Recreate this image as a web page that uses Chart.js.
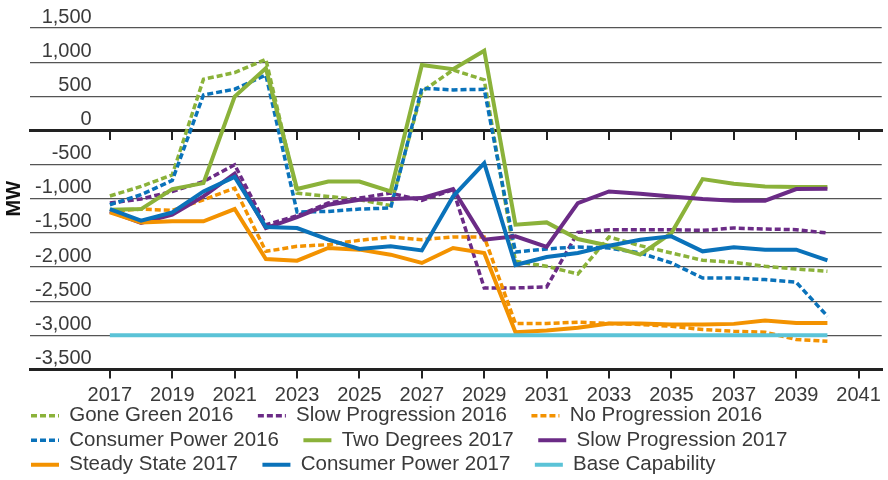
<!DOCTYPE html>
<html lang="en">
<head>
  <meta charset="UTF-8">
  <title>Capacity margin - MW</title>
  <script src="https://cdn.jsdelivr.net/npm/chart.js@4"></script>
  <style>
    html, body { margin: 0; padding: 0; background: #fff; }
    #wrap { width: 888px; height: 480px; }
  </style>
</head>
<body>
<div id="wrap"><canvas id="chart"></canvas></div>

<script>
  // categories
  const years = [2017, 2018, 2019, 2020, 2021, 2022, 2023, 2024, 2025, 2026, 2027, 2028,
                 2029, 2030, 2031, 2032, 2033, 2034, 2035, 2036, 2037, 2038, 2039, 2040];
  const xTicks = [2017, 2019, 2021, 2023, 2025, 2027, 2029, 2031, 2033, 2035, 2037, 2039, 2041];

  // series values (MW)
  const goneGreen2016 = [-960, -820, -650, 750, 847, 1042, -917, -966, -1015, -1100, 569, 886,
                         740, -1916, -1989, -2101, -1560, -1687, -1794, -1901, -1931, -1989, -2028, -2062];
  const slowProg2016 = [-1063, -1004, -893, -747, -503, -1380, -1250, -1063, -990, -917, -1024, -868,
                        -2306, -2306, -2291, -1492, -1453, -1453, -1453, -1463, -1429, -1443, -1453, -1502];
  const noProg2016 = [-1185, -1151, -1171, -1015, -844, -1770, -1697, -1672, -1609, -1560, -1599, -1560,
                      -1560, -2827, -2827, -2808, -2827, -2842, -2867, -2915, -2940, -2954, -3061, -3086];
  const consumer2016 = [-1088, -941, -732, 520, 604, 813, -1195, -1185, -1151, -1136, 618, 594,
                        603, -1780, -1735, -1706, -1721, -1794, -1940, -2160, -2160, -2184, -2223, -2720];
  const twoDegrees2017 = [-1161, -1151, -858, -771, 496, 911, -858, -747, -747, -893, 959, 896,
                          1168, -1380, -1346, -1589, -1687, -1819, -1502, -712, -781, -820, -829, -829];
  const slowProg2017 = [-1185, -1355, -1234, -966, -634, -1429, -1270, -1088, -1015, -1004, -990, -858,
                        -1599, -1551, -1706, -1063, -893, -927, -966, -1004, -1029, -1029, -858, -854];
  const steadyState2017 = [-1200, -1346, -1331, -1331, -1151, -1882, -1906, -1721, -1745, -1819, -1940, -1721,
                           -1794, -2954, -2930, -2890, -2827, -2827, -2842, -2842, -2832, -2784, -2818, -2818];
  const consumer2017 = [-1151, -1320, -1200, -893, -680, -1414, -1429, -1599, -1735, -1697, -1756, -966,
                        -478, -1970, -1852, -1794, -1687, -1599, -1551, -1770, -1712, -1745, -1745, -1901];
  const baseCapability = [-3000, -3000, -3000, -3000, -3000, -3000, -3000, -3000, -3000, -3000, -3000, -3000,
                          -3000, -3000, -3000, -3000, -3000, -3000, -3000, -3000, -3000, -3000, -3000, -3000];

  const FONT = '"Liberation Sans", Arial, sans-serif';
  const TEXT = '#3a3a3a';
  const GREEN = '#8bb23a', PURPLE = '#6b2b86', ORANGE = '#f39200', BLUE = '#0a72ba', CYAN = '#5bc3d7';
  const DASH = [6, 3];

  const series = [
    { label: 'Gone Green 2016', data: goneGreen2016, color: GREEN, dashed: true },
    { label: 'Slow Progression 2016', data: slowProg2016, color: PURPLE, dashed: true },
    { label: 'No Progression 2016', data: noProg2016, color: ORANGE, dashed: true },
    { label: 'Consumer Power 2016', data: consumer2016, color: BLUE, dashed: true },
    { label: 'Two Degrees 2017', data: twoDegrees2017, color: GREEN, dashed: false },
    { label: 'Slow Progression 2017', data: slowProg2017, color: PURPLE, dashed: false },
    { label: 'Steady State 2017', data: steadyState2017, color: ORANGE, dashed: false },
    { label: 'Consumer Power 2017', data: consumer2017, color: BLUE, dashed: false },
    { label: 'Base Capability', data: baseCapability, color: CYAN, dashed: false }
  ];

  const datasets = series.map((s, i) => ({
    label: s.label,
    data: years.map((yr, k) => ({ x: yr, y: s.data[k] })),
    borderColor: s.color,
    backgroundColor: s.color,
    borderWidth: s.dashed ? 3.5 : 4,
    borderDash: s.dashed ? DASH : [],
    pointRadius: 0,
    tension: 0,
    order: series.length - 1 - i   // later series drawn on top
  }));

  const xMin = 2014.44, xMax = 2041.74;
  const setXTicks = axis => { axis.ticks = xTicks.map(v => ({ value: v })); };

  // legend sits in from the left edge and tucks up under the year labels, like the original
  const legendShift = {
    id: 'legendShift',
    afterLayout(chart) {
      chart.legend.left += 27;
      chart.legend.top -= 11;
    }
  };

  new Chart(document.getElementById('chart'), {
    type: 'line',
    data: { datasets },
    plugins: [legendShift],
    options: {
      responsive: true,
      maintainAspectRatio: false,
      animation: false,
      devicePixelRatio: 1,
      layout: { padding: { top: 28, right: 5, bottom: -16, left: 0 } },
      scales: {
        x: {
          type: 'linear',
          min: xMin, max: xMax,
          afterBuildTicks: setXTicks,
          ticks: {
            callback: v => String(v),
            font: { family: FONT, size: 20, lineHeight: 1 },
            color: TEXT, padding: 7, maxRotation: 0, autoSkip: false
          },
          grid: { drawOnChartArea: false, tickLength: 9, color: '#222', lineWidth: 2 },
          border: { display: true, color: '#222', width: 3 }
        },
        xZero: {
          type: 'linear',
          position: { y: 0 },
          min: xMin, max: xMax,
          afterBuildTicks: setXTicks,
          ticks: { display: false },
          grid: { drawOnChartArea: false, tickLength: 8, color: '#222', lineWidth: 2 },
          border: { display: true, color: '#222', width: 3 }
        },
        y: {
          min: -3500, max: 1500,
          ticks: {
            stepSize: 500, mirror: true, crossAlign: 'far', padding: 5, labelOffset: -11,
            font: { family: FONT, size: 20 }, color: TEXT
          },
          grid: { color: '#555', lineWidth: 1.2, drawTicks: false },
          border: { display: false },
          title: {
            display: true, text: 'MW', color: '#111',
            font: { family: FONT, size: 20, weight: 'bold', lineHeight: 1 },
            padding: { top: 4, bottom: -4 }
          }
        }
      },
      plugins: {
        tooltip: { enabled: false },
        legend: {
          position: 'bottom',
          align: 'start',
          labels: {
            usePointStyle: true,
            pointStyle: 'line',
            pointStyleWidth: 28,
            padding: 4,
            color: TEXT,
            font: { family: FONT, size: 20.5 },
            generateLabels: chart => chart.data.datasets.map((ds, i) => ({
              text: ds.label + '\u2003',
              fillStyle: ds.borderColor,
              strokeStyle: ds.borderColor,
              lineWidth: ds.borderWidth,
              lineDash: ds.borderDash,
              lineCap: 'butt',
              pointStyle: 'line',
              fontColor: TEXT,
              hidden: false,
              datasetIndex: i
            }))
          }
        }
      }
    }
  });
</script>
</body>
</html>
